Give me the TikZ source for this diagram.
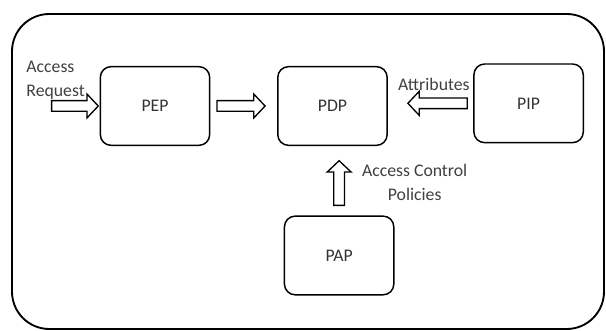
\documentclass[tikz,border=0pt]{standalone}
\usepackage{fontspec}
\setmainfont{Carlito}
\usetikzlibrary{positioning}
\usetikzlibrary{calc}

\begin{document}
\begin{tikzpicture}[font=\fontsize{13.3}{18}\selectfont,
    comp/.style={draw,rounded corners=8pt,line width=1.1pt,minimum width=82pt,minimum height=59pt,text=black!80},
    flow/.style={draw,line width=1pt,line join=miter,to path={
        let \p1=(\tikztostart), \p2=(\tikztotarget), \n1={atan2(\y2-\y1,\x2-\x1)} in
        ($(\p1)+(\n1+90:4pt)$)
        -- ($(\p2)+(\n1+180:8.5pt)+(\n1+90:4pt)$)
        -- ($(\p2)+(\n1+180:8.5pt)+(\n1+90:9pt)$)
        -- (\p2)
        -- ($(\p2)+(\n1+180:8.5pt)+(\n1-90:9pt)$)
        -- ($(\p2)+(\n1+180:8.5pt)+(\n1-90:4pt)$)
        -- ($(\p1)+(\n1-90:4pt)$) -- cycle}},
    lbl/.style={text=black!75,inner sep=1pt}]
        \useasboundingbox (-116.25pt,-168.75pt) rectangle (338.25pt,79.5pt);
        \draw[line width=1.4pt,rounded corners=28pt] (-107.25pt,-167.25pt) rectangle (336.75pt,69pt);

        \node[comp] (PEP) {PEP};
        \node[comp,right=50pt of PEP] (PDP) {PDP};
        \node[comp,right=64pt of PDP,yshift=2pt] (PIP) {PIP};
        \node[comp,below=52pt of PDP,xshift=5pt] (PAP) {PAP};

        % request into PEP
        \coordinate[left=36pt of PEP.west] (req);
        \draw[flow] (req) to ([xshift=-1pt]PEP.west);
        \node[lbl,align=left,above=4pt of req,xshift=3pt] (reqtxt) {Access\\Request};

        % PEP to PDP
        \draw[flow] ([xshift=5pt]PEP.east) to ([xshift=-9pt]PDP.west);

        % attributes from PIP
        \coordinate[left=4.5pt of PIP.west] (att);
        \draw[flow] (att) to ([xshift=15pt]att -| PDP.east);
        \node[lbl,above=8pt of att,xshift=-25pt] (atttxt) {Attributes};

        % policies from PAP
        \coordinate[above=7.5pt of PAP.north] (pol);
        \draw[flow] (pol) to ([yshift=-11pt]pol |- PDP.south);
        \node[lbl,align=center,right=16pt of pol,yshift=17pt,anchor=west] (poltxt) {Access Control\\Policies};

    \end{tikzpicture}
\end{document}
